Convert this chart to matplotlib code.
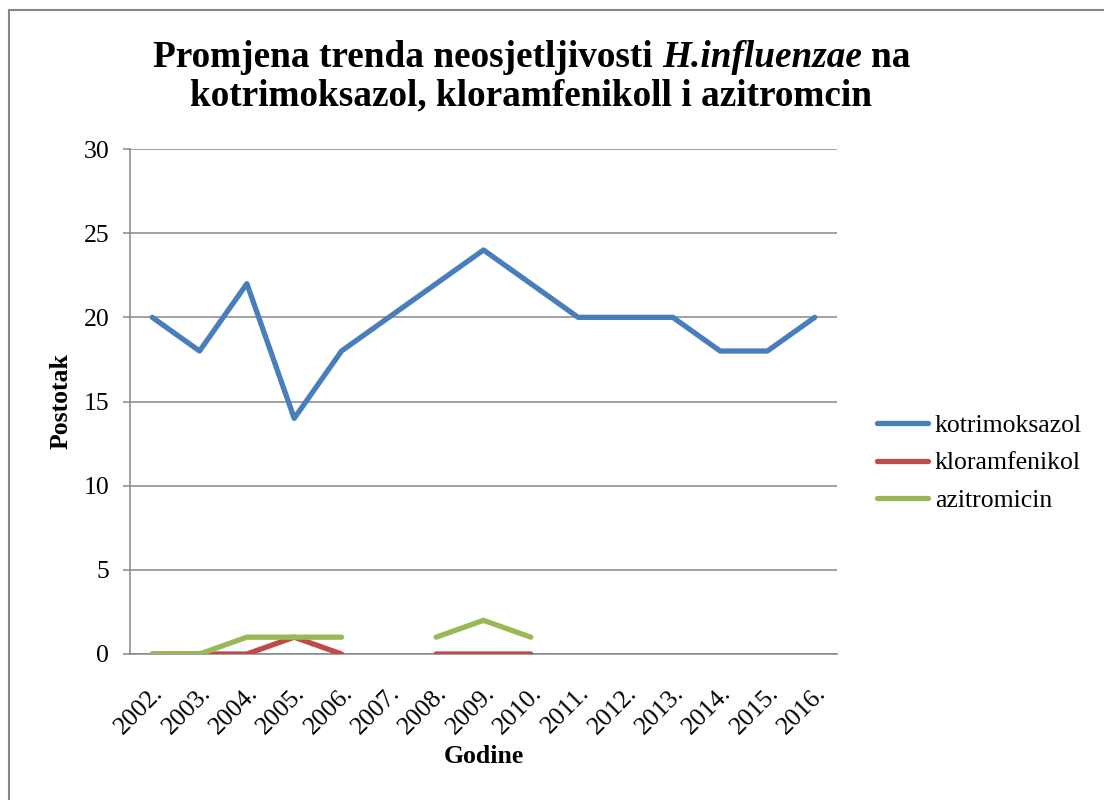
import numpy as np
import matplotlib
matplotlib.use("Agg")
import matplotlib.pyplot as plt
from matplotlib.patches import Rectangle

plt.rcParams['font.family'] = ['Liberation Serif', 'DejaVu Serif']

# data
godine = ['2002.', '2003.', '2004.', '2005.', '2006.', '2007.', '2008.', '2009.',
          '2010.', '2011.', '2012.', '2013.', '2014.', '2015.', '2016.']
kotrimoksazol = [20, 18, 22, 14, 18, 20, 22, 24, 22, 20, 20, 20, 18, 18, 20]
kloramfenikol = [0, 0, 0, 1, 0, np.nan, 0, 0, 0, np.nan, np.nan, np.nan, np.nan, np.nan, np.nan]
azitromicin = [0, 0, 1, 1, 1, np.nan, 1, 2, 1, np.nan, np.nan, np.nan, np.nan, np.nan, np.nan]

W, H = 1104, 800
fig = plt.figure(figsize=(W / 100, H / 100), dpi=100)

# outer chart border
fig.patches.append(Rectangle((9 / W, -0.01), 1.1, 1 - 10 / H + 0.01, transform=fig.transFigure,
                             fill=False, edgecolor='#868686', linewidth=1.5))

ax = fig.add_axes([130 / W, 1 - 654 / H, 707 / W, 505 / H])
x = np.arange(len(godine))
series = [('kotrimoksazol', kotrimoksazol, '#4A7EBB'),
          ('kloramfenikol', kloramfenikol, '#BE4B48'),
          ('azitromicin', azitromicin, '#98B954')]
for name, vals, col in series:
    ax.plot(x, vals, color=col, lw=3.8, label=name, solid_capstyle='round',
            solid_joinstyle='round', zorder=3)

ax.set_xlim(-0.47, len(godine) - 0.53)
ax.set_ylim(0, 30)
ax.set_yticks(range(0, 31, 5))
ax.yaxis.grid(True, color='#868686', lw=1.1)
ax.set_axisbelow(True)
for s in ['top', 'right']:
    ax.spines[s].set_visible(False)
ax.spines['left'].set_color('#868686')
ax.spines['left'].set_linewidth(1.1)
ax.spines['bottom'].set_color('#868686')
ax.spines['bottom'].set_linewidth(1.1)
ax.tick_params(axis='y', length=5, width=1.1, color='#868686', labelsize=18.5, pad=10)
ax.tick_params(axis='x', length=0, labelsize=18.5, pad=20)
ax.set_xticks(x)
ax.set_xticklabels(godine, rotation=45, ha='right', va='top', rotation_mode='anchor')

ax.set_ylabel('Postotak', fontsize=18.5, fontweight='bold', labelpad=8)
ax.set_xlabel('Godine', fontsize=18.5, fontweight='bold', labelpad=5)

# title, first line has an italic species name
r = fig.canvas.get_renderer()
TS = 26.8
def width_px(s, style):
    t = fig.text(0, 0, s, fontsize=TS, fontweight='bold', fontstyle=style)
    w = t.get_window_extent(r).width
    t.remove()
    return w

parts = [('Promjena trenda neosjetljivosti', 'normal'), ('H.influenzae', 'italic'), ('na', 'normal')]
space = width_px('a a', 'normal') - width_px('aa', 'normal')
widths = [width_px(s, st) for s, st in parts]
total = sum(widths) + space * (len(parts) - 1)
xpos = 532 - total / 2
for (s, st), w in zip(parts, widths):
    fig.text(xpos / W, 1 - 67 / H, s, ha='left', va='baseline', fontsize=TS,
             fontweight='bold', fontstyle=st)
    xpos += w + space
fig.text(531 / W, 1 - 105 / H, 'kotrimoksazol, kloramfenikoll i azitromcin',
         ha='center', va='baseline', fontsize=TS, fontweight='bold')

fig.legend(loc='center left', bbox_to_anchor=(877 / W, 1 - 463 / H), frameon=False,
           fontsize=18.5, handlelength=2.0, handletextpad=0.25, labelspacing=0.55,
           borderpad=0, borderaxespad=0)

fig.savefig('out.png', dpi=100)
